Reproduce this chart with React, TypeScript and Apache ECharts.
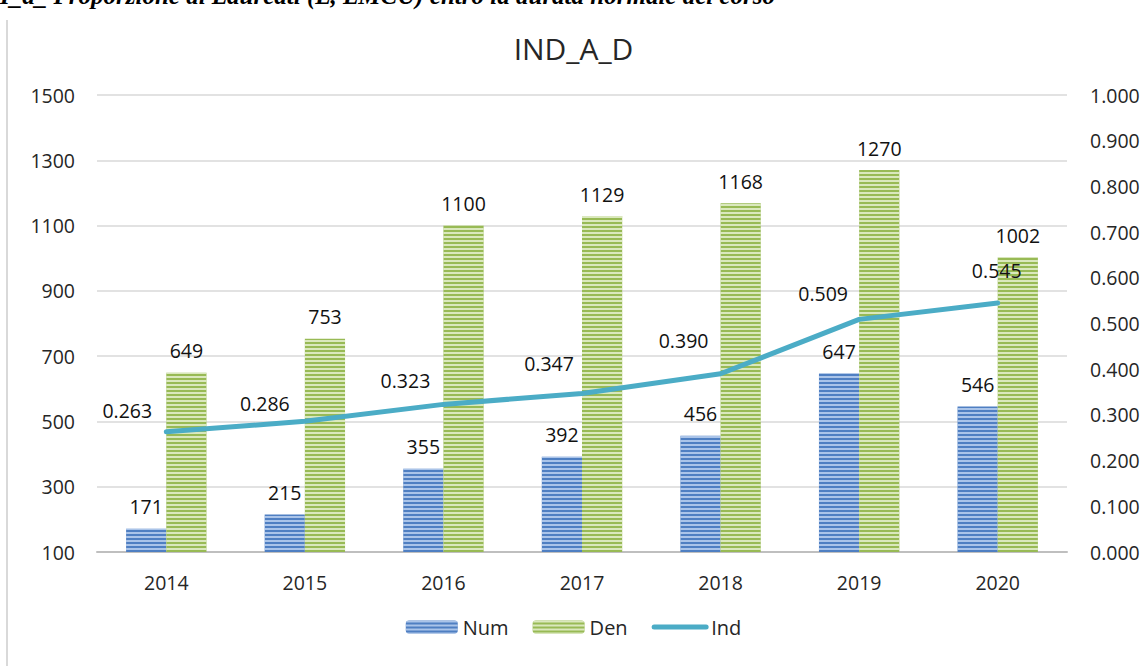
import React, { useEffect, useRef } from 'react';
import * as echarts from 'echarts';

const years = ['2014', '2015', '2016', '2017', '2018', '2019', '2020'];
const numValues = [171, 215, 355, 392, 456, 647, 546];
const denValues = [649, 753, 1100, 1129, 1168, 1270, 1002];
const indValues = [0.263, 0.286, 0.323, 0.347, 0.39, 0.509, 0.545];
const leftTicks = [100, 300, 500, 700, 900, 1100, 1300, 1500];
const indLabelOffsets = [[-39, -6], [-40, -2], [-38, -8], [-33, -14], [-37, -18], [-36, -10], [-1, -17]];

const FONT = "'Open Sans', 'Noto Sans', sans-serif";

export default function App() {
  const ref = useRef<HTMLDivElement>(null);
  useEffect(() => {
    document.body.style.margin = '0';
    const chart = echarts.init(ref.current!, null, { renderer: 'svg' });
    const stripe = (c: string) => ({
      symbol: 'rect',
      symbolSize: 1,
      dashArrayX: [1, 0],
      dashArrayY: [1.6, 1.7],
      rotation: 0,
      color: c,
    });
    const labelStyle = { fontFamily: FONT, fontSize: 19.5, color: '#111111' };
    chart.setOption({
      animation: false,
      backgroundColor: '#fff',
      textStyle: { fontFamily: FONT },
      title: {
        text: 'IND_A_D',
        left: 'center',
        top: 28,
        textStyle: { fontFamily: FONT, fontSize: 30, fontWeight: 'normal', color: '#262626' },
      },
      graphic: [
        {
          type: 'line',
          shape: { x1: 7, y1: 20, x2: 7, y2: 666 },
          style: { stroke: '#d9d9d9', lineWidth: 2 },
        },
        {
          type: 'text',
          x: 0,
          y: 8,
          style: {
            text: 'I_a_ Proporzione di Laureati (L, LMCU) entro la durata normale del corso',
            fontFamily: "'Liberation Serif', serif",
            fontStyle: 'italic',
            fontWeight: 'bold',
            fontSize: 25,
            fill: '#000',
            verticalAlign: 'bottom',
            align: 'left',
          },
        },
      ],
      legend: {
        bottom: 24,
        left: 'center',
        itemWidth: 52,
        itemHeight: 13,
        itemGap: 24,
        textStyle: { fontFamily: FONT, fontSize: 20, color: '#262626' },
        data: [
          'Num',
          'Den',
          { name: 'Ind', itemStyle: { opacity: 0 }, lineStyle: { width: 5, color: '#4bacc6', cap: 'round' } },
        ],
      },
      grid: { left: 97, right: 80, top: 95, bottom: 114 },
      xAxis: {
        type: 'category',
        data: years,
        axisLine: { lineStyle: { color: '#bfbfbf', width: 2 } },
        axisTick: { show: false },
        axisLabel: { fontFamily: FONT, fontSize: 19.5, color: '#262626', margin: 20 },
      },
      yAxis: [
        {
          type: 'value',
          min: 100,
          max: 1500,
          axisLine: { show: false },
          axisTick: { show: false, customValues: leftTicks },
          axisLabel: {
            fontFamily: FONT,
            fontSize: 19.5,
            color: '#262626',
            margin: 22,
            customValues: leftTicks,
            formatter: (v: number) => String(v),
          },
          splitLine: { lineStyle: { color: '#d9d9d9', width: 1.5 } },
        },
        {
          type: 'value',
          min: 0,
          max: 1,
          interval: 0.1,
          axisLine: { show: false },
          axisTick: { show: false },
          splitLine: { show: false },
          axisLabel: {
            fontFamily: FONT,
            fontSize: 19.5,
            color: '#262626',
            margin: 23,
            formatter: (v: number) => v.toFixed(3),
          },
        },
      ],
      series: [
        {
          name: 'Num',
          type: 'bar',
          data: numValues,
          barGap: '0%',
          barCategoryGap: '42%',
          itemStyle: { color: '#4f7fc2', decal: stripe('rgba(200,218,245,0.75)') },
          label: { show: true, position: 'top', distance: 12, ...labelStyle },
        },
        {
          name: 'Den',
          type: 'bar',
          data: denValues,
          barGap: '0%',
          barCategoryGap: '42%',
          itemStyle: { color: '#98ba55', decal: stripe('rgba(235,244,215,0.8)') },
          label: { show: true, position: 'top', distance: 12, ...labelStyle },
        },
        {
          name: 'Ind',
          type: 'line',
          yAxisIndex: 1,
          symbol: 'circle',
          symbolSize: 1,
          showSymbol: true,
          data: indValues.map((v, i) => ({ value: v, label: { offset: indLabelOffsets[i] } })),
          lineStyle: { color: '#4bacc6', width: 5, cap: 'round', join: 'round' },
          itemStyle: { color: '#4bacc6' },
          label: {
            show: true,
            position: 'top',
            distance: 5,
            ...labelStyle,
            formatter: (p: any) => Number(p.value).toFixed(3),
          },
          z: 5,
        },
      ],
    });
    return () => chart.dispose();
  }, []);
  return <div ref={ref} style={{ width: 1147, height: 666 }} />;
}
